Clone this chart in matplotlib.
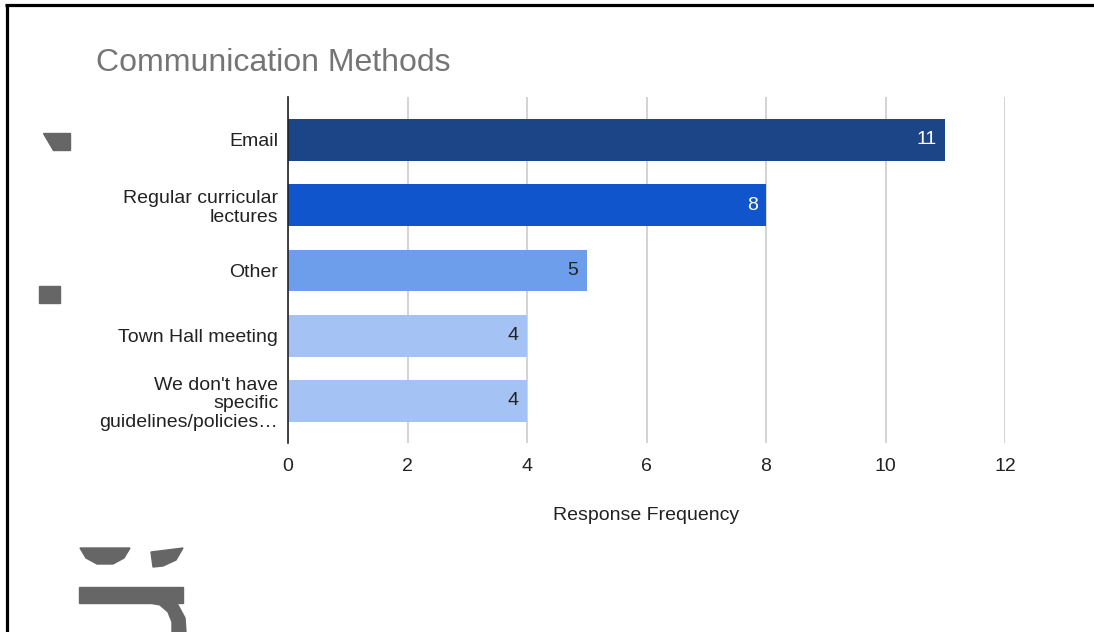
import matplotlib
matplotlib.use("Agg")
import matplotlib.pyplot as plt
from matplotlib.patches import Polygon, Rectangle

categories = ["Email", "Regular curricular\nlectures", "Other", "Town Hall meeting",
              "We don't have\nspecific\nguidelines/policies\u2026"]
values = [11, 8, 5, 4, 4]
bar_colors = ["#1c4587", "#1155cc", "#6d9eeb", "#a4c2f4", "#a4c2f4"]
label_colors = ["white", "white", "#222222", "#222222", "#222222"]
xticks = [0, 2, 4, 6, 8, 10, 12]
title = "Communication Methods"
xlabel = "Response Frequency"

plt.rcParams['font.family'] = ['Liberation Sans', 'DejaVu Sans']

W, H = 1094, 632
fig = plt.figure(figsize=(W / 100, H / 100), dpi=100)
fig.patch.set_facecolor("white")

def fx(px):
    return px / W

def fy(py):
    return 1 - py / H

ax = fig.add_axes([fx(288), fy(443), fx(1005) - fx(288), fy(97) - fy(443)])
pos = list(range(len(categories)))
ax.barh(pos, values, height=0.64, color=bar_colors, zorder=3)
for p, v, c in zip(pos, values, label_colors):
    ax.annotate(str(v), (v, p), xytext=(-6, 0), textcoords="offset points",
                ha="right", va="center", color=c, fontsize=14, zorder=4)

ax.set_xlim(0, 12)
ax.set_ylim(4.644, -0.659)
ax.set_xticks(xticks)
ax.set_xticklabels([str(t) for t in xticks], fontsize=14, color="#222222")
ax.set_yticks(pos)
ax.set_yticklabels(categories, fontsize=14, color="#222222", linespacing=1.14)
ax.tick_params(axis="both", length=0)
ax.tick_params(axis="y", pad=7)
ax.tick_params(axis="x", pad=10.5)
ax.grid(axis="x", color="#cccccc", linewidth=1.2, zorder=0)
for s in ["top", "right", "bottom"]:
    ax.spines[s].set_visible(False)
ax.spines["left"].set_color("#222222")
ax.spines["left"].set_linewidth(1.2)
ax.spines["left"].set_zorder(5)
ax.set_xlabel(xlabel, fontsize=14, color="#222222", labelpad=23)

fig.text(fx(96), fy(63), title, fontsize=23, color="#757575", ha="left", va="center")

# frame lines
fig.add_artist(plt.Line2D([fx(5), 1], [fy(5.3), fy(5.3)], color="black", linewidth=2.3,
                          solid_capstyle="butt"))
fig.add_artist(plt.Line2D([fx(6.5), fx(6.5)], [0, fy(4)], color="black", linewidth=2.3,
                          solid_capstyle="butt"))

# gray fragments on the left
g = "#666666"
fig.add_artist(Polygon([[fx(43), fy(133)], [fx(70), fy(133)], [fx(70), fy(150)], [fx(53), fy(150)]],
                       closed=True, color=g, transform=fig.transFigure))
fig.add_artist(Rectangle((fx(39), fy(303)), fx(60) - fx(39), fy(286) - fy(303),
                         color=g, transform=fig.transFigure))
fig.add_artist(Polygon([[fx(80), fy(548)], [fx(130), fy(548)], [fx(124), fy(558)], [fx(113), fy(564)],
                        [fx(97), fy(564)], [fx(86), fy(558)]], closed=True, color=g,
                       transform=fig.transFigure))
fig.add_artist(Polygon([[fx(151), fy(552)], [fx(183), fy(548)], [fx(176), fy(560)], [fx(163), fy(566)],
                        [fx(153), fy(567)]], closed=True, color=g, transform=fig.transFigure))
fig.add_artist(Rectangle((fx(79), fy(603)), fx(183) - fx(79), fy(587) - fy(603),
                         color=g, transform=fig.transFigure))
fig.add_artist(Polygon([[fx(150), fy(603)], [fx(160), fy(605)], [fx(168), fy(612)], [fx(172), fy(622)],
                        [fx(172), fy(632)], [fx(186), fy(632)], [fx(185), fy(618)], [fx(178), fy(605)],
                        [fx(168), fy(597)], [fx(155), fy(595)]], closed=True, color=g,
                       transform=fig.transFigure))

fig.savefig("out.png", dpi=100, facecolor="white")
